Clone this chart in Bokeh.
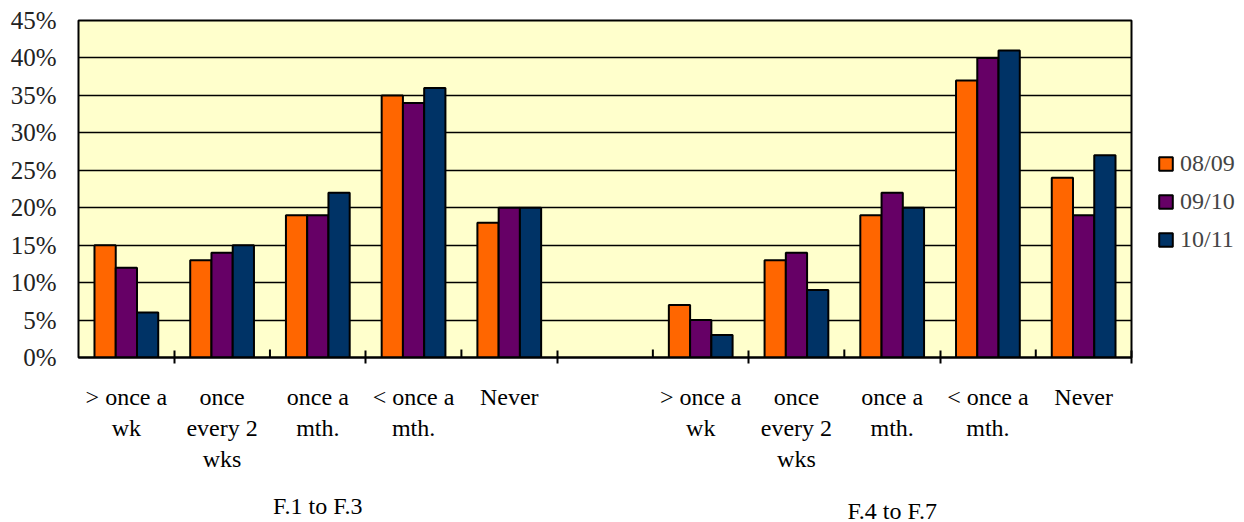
from bokeh.plotting import figure
from bokeh.models import (Range1d, FixedTicker, PrintfTickFormatter, Legend, LegendItem, LinearAxis)
from bokeh.embed import file_html
from bokeh.resources import INLINE

categories = ["> once a\nwk", "once\nevery 2\nwks", "once a\nmth.", "< once a\nmth.", "Never",
              "",
              "> once a\nwk", "once\nevery 2\nwks", "once a\nmth.", "< once a\nmth.", "Never"]
series_names = ["08/09", "09/10", "10/11"]
s0809 = [15, 13, 19, 35, 18, None, 7, 13, 19, 37, 24]
s0910 = [12, 14, 19, 34, 20, None, 5, 14, 22, 40, 19]
s1011 = [6, 15, 22, 36, 20, None, 3, 9, 20, 41, 27]
colors = ["#FF6600", "#660066", "#003366"]
group_labels = ["F.1 to F.3", "F.4 to F.7"]
group_members = [[0, 1, 2, 3, 4], [6, 7, 8, 9, 10]]
y_ticks = [0, 5, 10, 15, 20, 25, 30, 35, 40, 45]

FONT = "Liberation Serif"
n = len(categories)
centers = [i + 0.5 for i in range(n)]
bar_w = 0.222
W = 1228
left, top, right_edge, bottom_edge = 78, 20, 1131, 357
frame_w = right_edge - left
frame_h = bottom_edge - top

p = figure(frame_width=frame_w, frame_height=frame_h, output_backend="svg", toolbar_location=None,
           x_range=Range1d(0, n), y_range=Range1d(0, 45),
           min_border_left=left, min_border_right=W - right_edge,
           min_border_top=top, min_border_bottom=0,
           border_fill_color="white")
p.background_fill_color = "#FFFFCC"
p.outline_line_color = "black"
p.outline_line_width = 2

renderers = []
for j, (vals, col) in enumerate(zip([s0809, s0910, s1011], colors)):
    xs = [c + (j - 1) * bar_w for c, v in zip(centers, vals) if v is not None]
    ys = [v for v in vals if v is not None]
    r = p.vbar(x=xs, top=ys, bottom=0, width=bar_w, fill_color=col,
               line_color="black", line_width=2)
    renderers.append(r)

# inner tick marks at alternate category boundaries
even_b = [float(k) for k in range(2, n, 2)]
p.segment(x0=even_b, y0=[0] * len(even_b), x1=even_b, y1=[8 / frame_h * 45] * len(even_b),
          line_color="black", line_width=2)

# x axis
xa = p.xaxis[0]
xa.ticker = FixedTicker(ticks=centers, minor_ticks=[float(k) for k in range(1, n + 1, 2)])
xa.major_label_overrides = {c: lab for c, lab in zip(centers, categories)}
xa.major_tick_in = 0
xa.major_tick_out = 0
xa.minor_tick_in = 7
xa.minor_tick_out = 6
xa.minor_tick_line_color = "black"
xa.minor_tick_line_width = 2
xa.axis_line_color = "black"
xa.axis_line_width = 2
xa.major_label_text_font = FONT
xa.major_label_text_font_size = "24px"
xa.major_label_text_color = "black"
xa.major_label_text_line_height = 1.2
xa.major_label_standoff = 20
xa.major_label_orientation = "horizontal"

# group labels as extra axes below (second one slightly lower, as in the original)
group_centers = [sum(centers[i] for i in m) / len(m) for m in group_members]
for gc, lab, standoff in zip(group_centers, group_labels, [18, -24]):
    ga = LinearAxis(ticker=FixedTicker(ticks=[gc]),
                    major_label_overrides={gc: lab},
                    axis_line_color=None, major_tick_line_color=None, minor_tick_line_color=None,
                    major_tick_in=0, major_tick_out=0,
                    major_label_standoff=standoff, major_label_text_font=FONT,
                    major_label_text_font_size="24px", major_label_text_color="black",
                    major_label_orientation="horizontal")
    p.add_layout(ga, "below")

# y axis
ya = p.yaxis[0]
ya.ticker = FixedTicker(ticks=y_ticks)
ya.formatter = PrintfTickFormatter(format="%d%%")
ya.major_tick_in = 0
ya.major_tick_out = 0
ya.minor_tick_line_color = None
ya.axis_line_color = None
ya.major_label_text_font = FONT
ya.major_label_text_font_size = "25px"
ya.major_label_text_color = "#222222"
ya.major_label_standoff = 22

p.xgrid.grid_line_color = None
p.ygrid.grid_line_color = "black"
p.ygrid.grid_line_width = 1.5

legend = Legend(items=[LegendItem(label=nm, renderers=[r]) for nm, r in zip(series_names, renderers)],
                location=(26, 104), orientation="vertical",
                label_text_font=FONT, label_text_font_size="24px",
                glyph_width=17, glyph_height=17, label_height=24, spacing=11,
                padding=0, margin=0, label_standoff=6,
                background_fill_alpha=0, border_line_color=None)
p.add_layout(legend, "right")

open("out.html", "w").write(file_html(p, INLINE))
